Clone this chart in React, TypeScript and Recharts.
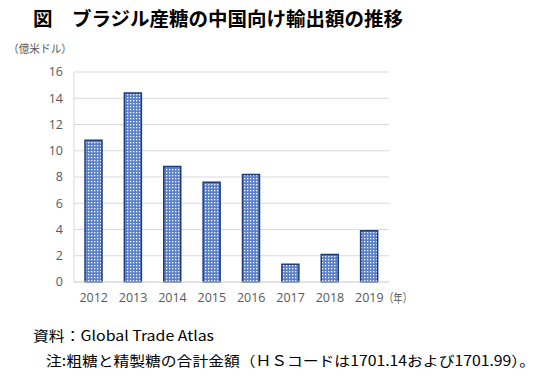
import { BarChart, Bar, XAxis, YAxis, CartesianGrid } from "recharts";

const years = ["2012", "2013", "2014", "2015", "2016", "2017", "2018", "2019"];
const exports = [10.8, 14.4, 8.8, 7.6, 8.2, 1.35, 2.1, 3.9];
const yTicks = [0, 2, 4, 6, 8, 10, 12, 14, 16];

const data = years.map((year, i) => ({ year, value: exports[i] }));

const jp = "'Noto Sans CJK JP', sans-serif";
const tickStyle = { fill: "#595959", fontSize: 12.5, fontFamily: "'Open Sans', sans-serif" };

export default function App() {
  return (
    <div style={{ position: "absolute", left: 0, top: 0, width: 547, height: 386, background: "#fff" }}>
      <BarChart width={547} height={386} data={data} margin={{ top: 72, right: 158, bottom: 74, left: 44 }}>
        <defs>
          <pattern id="dots" width="3" height="3" patternUnits="userSpaceOnUse">
            <rect width="3" height="3" fill="#5a80cc" />
            <rect x="1" y="1" width="1.3" height="1.3" fill="#ffffff" />
          </pattern>
        </defs>
        <CartesianGrid vertical={false} stroke="#d9d9d9" />
        <XAxis
          dataKey="year"
          tick={tickStyle}
          tickLine={false}
          tickMargin={5}
          axisLine={{ stroke: "#d9d9d9" }}
        />
        <YAxis
          width={30}
          domain={[0, 16]}
          ticks={yTicks}
          interval={0}
          tick={tickStyle}
          tickLine={false}
          tickMargin={5}
          axisLine={{ stroke: "#d9d9d9" }}
        />
        <Bar dataKey="value" barSize={17} fill="url(#dots)" stroke="#1f3c78" strokeWidth={1.5} isAnimationActive={false} />
      </BarChart>
      <svg width={547} height={386} style={{ position: "absolute", left: 0, top: 0, pointerEvents: "none" }}>
        <text x={33} y={26} fontFamily={jp} fontWeight={700} fontSize={19} fill="#000" textLength={370} lengthAdjust="spacingAndGlyphs">
          図　ブラジル産糖の中国向け輸出額の推移
        </text>
        <text x={8} y={53} fontFamily={jp} fontSize={11} fill="#595959" textLength={64} lengthAdjust="spacingAndGlyphs">
          （億米ドル）
        </text>
        <text x={384} y={303} fontFamily={jp} fontSize={12} fill="#595959" textLength={28} lengthAdjust="spacingAndGlyphs">
          （年）
        </text>
        <text x={33} y={341} fontFamily={jp} fontSize={14} fill="#000" textLength={181} lengthAdjust="spacingAndGlyphs">
          資料：Global Trade Atlas
        </text>
        <text x={46} y={366} fontFamily={jp} fontSize={14} fill="#000" textLength={489} lengthAdjust="spacingAndGlyphs">
          注:粗糖と精製糖の合計金額（ＨＳコードは1701.14および1701.99）。
        </text>
      </svg>
    </div>
  );
}
